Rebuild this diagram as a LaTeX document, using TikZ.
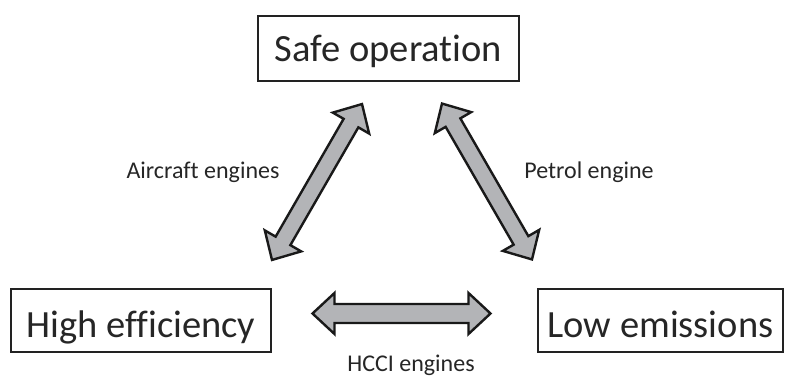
\documentclass[tikz,border=0pt]{standalone}
\usepackage{fontspec}
\setmainfont[Ligatures={NoCommon}]{Carlito}
\definecolor{arrowgray}{HTML}{B3B4B7}
\definecolor{boxline}{HTML}{222222}
\tikzset{
  box/.style={draw=boxline, line width=1.5pt, inner sep=0pt, font=\fontsize{38.5}{42}\selectfont, text=black!85},
  lbl/.style={inner sep=0pt, font=\fontsize{24}{27}\selectfont, text=black!85},
  arr/.style={fill=arrowgray, draw=black!90, line width=2.4pt, line join=miter},
}
\newcommand\dblarrow[5]{% center, angle, length, half shaft, half head
  \begin{scope}[shift={#1}, rotate=#2]
    \draw[arr] (-#3/2,0) -- (-#3/2+22,#5) -- (-#3/2+22,#4) -- (#3/2-22,#4) -- (#3/2-22,#5)
      -- (#3/2,0) -- (#3/2-22,-#5) -- (#3/2-22,-#4) -- (-#3/2+22,-#4) -- (-#3/2+22,-#5) -- cycle;
  \end{scope}}
\begin{document}
\begin{tikzpicture}[x=1pt, y=-1pt]
\useasboundingbox (0,0) rectangle (785,385);
% boxes
\node[box, minimum width=261pt, minimum height=65pt, text height=27pt, text depth=0pt] (safe) at (388.5,48.5) {Safe operation};
\node[box, minimum width=260pt, minimum height=63pt, text height=33pt, text depth=0pt] (high) at (141,320.5) {High efficiency};
\node[box, minimum width=245pt, minimum height=63pt, text height=33pt, text depth=0pt] (low) at (660.5,320.5) {Low emissions};
% arrow centres
\coordinate (ah) at (401.5,313.5);
\coordinate (al) at (317,182);
\coordinate (ar) at (487,181.5);
\dblarrow{(al)}{60}{180}{8.5}{21}
\dblarrow{(ar)}{-60}{180}{8.5}{21}
\dblarrow{(ah)}{0}{178}{9.5}{20.5}
% labels
\node[lbl] (lair) at (203,172) {Aircraft engines};
\node[lbl] (lpet) at (589,172) {Petrol engine};
\node[lbl] (lhcci) at (411,365) {HCCI engines};
\end{tikzpicture}
\end{document}
